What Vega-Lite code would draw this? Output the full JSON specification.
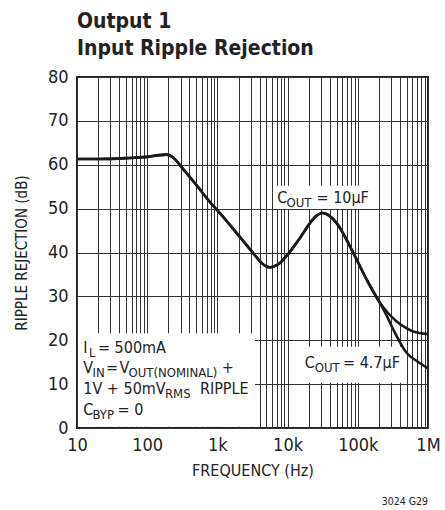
{
  "$schema": "https://vega.github.io/schema/vega-lite/v6.json",
  "width": 351,
  "height": 351,
  "autosize": {"type": "none"},
  "padding": {"left": 77, "top": 77, "right": 17, "bottom": 82},
  "background": "white",
  "title": {
    "text": ["Output 1", "Input Ripple Rejection"],
    "anchor": "start",
    "frame": "group",
    "font": "DejaVu Sans Condensed, sans-serif",
    "fontSize": 21,
    "fontWeight": "bold",
    "color": "#222222",
    "lineHeight": 27,
    "offset": 9
  },
  "config": {
    "view": {"stroke": "#222222", "strokeWidth": 2},
    "font": "DejaVu Sans Condensed, sans-serif"
  },
  "datasets": {
    "curve": [
      {"s": "10uF", "f": 10, "v": 61.3},
      {"s": "10uF", "f": 20, "v": 61.3},
      {"s": "10uF", "f": 50, "v": 61.5},
      {"s": "10uF", "f": 100, "v": 61.8},
      {"s": "10uF", "f": 150, "v": 62.2},
      {"s": "10uF", "f": 190, "v": 62.3},
      {"s": "10uF", "f": 235, "v": 61.6},
      {"s": "10uF", "f": 330, "v": 58.9},
      {"s": "10uF", "f": 500, "v": 55.4},
      {"s": "10uF", "f": 875, "v": 50.6},
      {"s": "10uF", "f": 1000, "v": 49.6},
      {"s": "10uF", "f": 2100, "v": 43.5},
      {"s": "10uF", "f": 3000, "v": 40.5},
      {"s": "10uF", "f": 4050, "v": 38.0},
      {"s": "10uF", "f": 5000, "v": 36.8},
      {"s": "10uF", "f": 5600, "v": 36.6},
      {"s": "10uF", "f": 7000, "v": 37.1},
      {"s": "10uF", "f": 8000, "v": 37.8},
      {"s": "10uF", "f": 10000, "v": 39.5},
      {"s": "10uF", "f": 15000, "v": 43.3},
      {"s": "10uF", "f": 20000, "v": 46.3},
      {"s": "10uF", "f": 25000, "v": 48.2},
      {"s": "10uF", "f": 31600, "v": 49.0},
      {"s": "10uF", "f": 40000, "v": 48.3},
      {"s": "10uF", "f": 50000, "v": 46.7},
      {"s": "10uF", "f": 86300, "v": 39.9},
      {"s": "10uF", "f": 134000, "v": 33.8},
      {"s": "10uF", "f": 207000, "v": 28.5},
      {"s": "10uF", "f": 260000, "v": 26.5},
      {"s": "10uF", "f": 358000, "v": 24.3},
      {"s": "10uF", "f": 500000, "v": 22.7},
      {"s": "10uF", "f": 617000, "v": 22.0},
      {"s": "10uF", "f": 1000000, "v": 21.4},
      {"s": "4.7uF", "f": 10, "v": 61.3},
      {"s": "4.7uF", "f": 20, "v": 61.3},
      {"s": "4.7uF", "f": 50, "v": 61.5},
      {"s": "4.7uF", "f": 100, "v": 61.8},
      {"s": "4.7uF", "f": 150, "v": 62.2},
      {"s": "4.7uF", "f": 190, "v": 62.3},
      {"s": "4.7uF", "f": 235, "v": 61.6},
      {"s": "4.7uF", "f": 330, "v": 58.9},
      {"s": "4.7uF", "f": 500, "v": 55.4},
      {"s": "4.7uF", "f": 875, "v": 50.6},
      {"s": "4.7uF", "f": 1000, "v": 49.6},
      {"s": "4.7uF", "f": 2100, "v": 43.5},
      {"s": "4.7uF", "f": 3000, "v": 40.5},
      {"s": "4.7uF", "f": 4050, "v": 38.0},
      {"s": "4.7uF", "f": 5000, "v": 36.8},
      {"s": "4.7uF", "f": 5600, "v": 36.6},
      {"s": "4.7uF", "f": 7000, "v": 37.1},
      {"s": "4.7uF", "f": 8000, "v": 37.8},
      {"s": "4.7uF", "f": 10000, "v": 39.5},
      {"s": "4.7uF", "f": 15000, "v": 43.3},
      {"s": "4.7uF", "f": 20000, "v": 46.3},
      {"s": "4.7uF", "f": 25000, "v": 48.2},
      {"s": "4.7uF", "f": 31600, "v": 49.0},
      {"s": "4.7uF", "f": 40000, "v": 48.3},
      {"s": "4.7uF", "f": 50000, "v": 46.7},
      {"s": "4.7uF", "f": 86300, "v": 39.9},
      {"s": "4.7uF", "f": 134000, "v": 33.8},
      {"s": "4.7uF", "f": 207000, "v": 28.5},
      {"s": "4.7uF", "f": 260000, "v": 25.5},
      {"s": "4.7uF", "f": 321000, "v": 22.4},
      {"s": "4.7uF", "f": 498000, "v": 17.1},
      {"s": "4.7uF", "f": 700000, "v": 15.2},
      {"s": "4.7uF", "f": 1000000, "v": 13.6}
    ],
    "boxes": [
      {"f": 10.35, "f2": 3436, "v": 0.3, "v2": 21.6},
      {"f": 6370, "f2": 194000, "v": 49.9, "v2": 55.2},
      {"f": 15000, "f2": 500000, "v": 10.3, "v2": 18.5}
    ],
    "labels": [
      {"f": 12.29, "v": 17.08, "t": "I", "k": "main"},
      {"f": 14.82, "v": 17.08, "t": "L", "k": "sub"},
      {"f": 19.9, "v": 17.08, "t": "= 500mA", "k": "main"},
      {"f": 12.29, "v": 12.53, "t": "V", "k": "main"},
      {"f": 16.62, "v": 12.53, "t": "IN", "k": "sub"},
      {"f": 25.9, "v": 12.53, "t": "=", "k": "main"},
      {"f": 40.3, "v": 12.53, "t": "V", "k": "main"},
      {"f": 54.1, "v": 12.53, "t": "OUT(NOMINAL)", "k": "sub"},
      {"f": 1158, "v": 12.53, "t": "+", "k": "main"},
      {"f": 12.29, "v": 7.74, "t": "1V + 50mV", "k": "main"},
      {"f": 178.8, "v": 7.74, "t": "RMS", "k": "sub"},
      {"f": 563, "v": 7.74, "t": "RIPPLE", "k": "main"},
      {"f": 12.29, "v": 2.96, "t": "C", "k": "main"},
      {"f": 16.62, "v": 2.96, "t": "BYP", "k": "sub"},
      {"f": 37.9, "v": 2.96, "t": "= 0", "k": "main"},
      {"f": 7096, "v": 51.3, "t": "C", "k": "main"},
      {"f": 9660, "v": 51.3, "t": "OUT", "k": "sub"},
      {"f": 25800, "v": 51.3, "t": "= 10µF", "k": "main"},
      {"f": 17580, "v": 13.6, "t": "C", "k": "main"},
      {"f": 24400, "v": 13.6, "t": "OUT", "k": "sub"},
      {"f": 61700, "v": 13.6, "t": "= 4.7µF", "k": "main"},
      {"f": 1000000, "v": 0, "t": "3024 G29", "k": "note"}
    ]
  },
  "encoding": {
    "x": {
      "field": "f",
      "type": "quantitative",
      "scale": {"type": "log", "domain": [10, 1000000], "nice": false},
      "axis": {
        "title": "FREQUENCY (Hz)",
        "titleFontSize": 16,
        "titleFontWeight": "normal",
        "titleColor": "#222222",
        "titlePadding": 8,
        "values": [10, 20, 30, 40, 50, 60, 70, 80, 90, 100, 200, 300, 400, 500, 600, 700, 800, 900, 1000, 2000, 3000, 4000, 5000, 6000, 7000, 8000, 9000, 10000, 20000, 30000, 40000, 50000, 60000, 70000, 80000, 90000, 100000, 200000, 300000, 400000, 500000, 600000, 700000, 800000, 900000, 1000000],
        "labelExpr": "datum.value == 10 ? '10' : datum.value == 100 ? '100' : datum.value == 1000 ? '1k' : datum.value == 10000 ? '10k' : datum.value == 100000 ? '100k' : datum.value == 1000000 ? '1M' : ''",
        "labelFontSize": 18,
        "labelColor": "#222222",
        "labelPadding": 8,
        "labelOverlap": false,
        "labelFlush": false,
        "ticks": false,
        "domain": false,
        "grid": true,
        "gridColor": "#333333",
        "gridWidth": 1,
        "gridOpacity": 1
      }
    },
    "y": {
      "field": "v",
      "type": "quantitative",
      "scale": {"domain": [0, 80], "nice": false},
      "axis": {
        "title": "RIPPLE REJECTION (dB)",
        "titleFontSize": 15,
        "titleFontWeight": "normal",
        "titleColor": "#222222",
        "titlePadding": 18,
        "values": [0, 10, 20, 30, 40, 50, 60, 70, 80],
        "labelFontSize": 18,
        "labelColor": "#222222",
        "labelPadding": 9,
        "ticks": false,
        "domain": false,
        "grid": true,
        "gridColor": "#333333",
        "gridWidth": 1,
        "gridOpacity": 1
      }
    }
  },
  "layer": [
    {
      "data": {"name": "boxes"},
      "mark": {"type": "rect", "fill": "white", "stroke": null},
      "encoding": {"x2": {"field": "f2"}, "y2": {"field": "v2"}}
    },
    {
      "data": {"name": "curve"},
      "mark": {"type": "line", "stroke": "#1a1a1a", "strokeWidth": 2.6, "interpolate": "monotone"},
      "encoding": {"detail": {"field": "s"}}
    },
    {
      "data": {"name": "labels"},
      "transform": [{"filter": "datum.k == 'main'"}],
      "mark": {"type": "text", "align": "left", "baseline": "alphabetic", "fontSize": 16, "color": "#222222"},
      "encoding": {"text": {"field": "t"}}
    },
    {
      "data": {"name": "labels"},
      "transform": [{"filter": "datum.k == 'sub'"}],
      "mark": {"type": "text", "align": "left", "baseline": "alphabetic", "fontSize": 13, "dy": 4, "color": "#222222"},
      "encoding": {"text": {"field": "t"}}
    },
    {
      "data": {"name": "labels"},
      "transform": [{"filter": "datum.k == 'note'"}],
      "mark": {"type": "text", "align": "right", "baseline": "alphabetic", "fontSize": 10.5, "dy": 77, "color": "#222222"},
      "encoding": {"text": {"field": "t"}}
    }
  ]
}
